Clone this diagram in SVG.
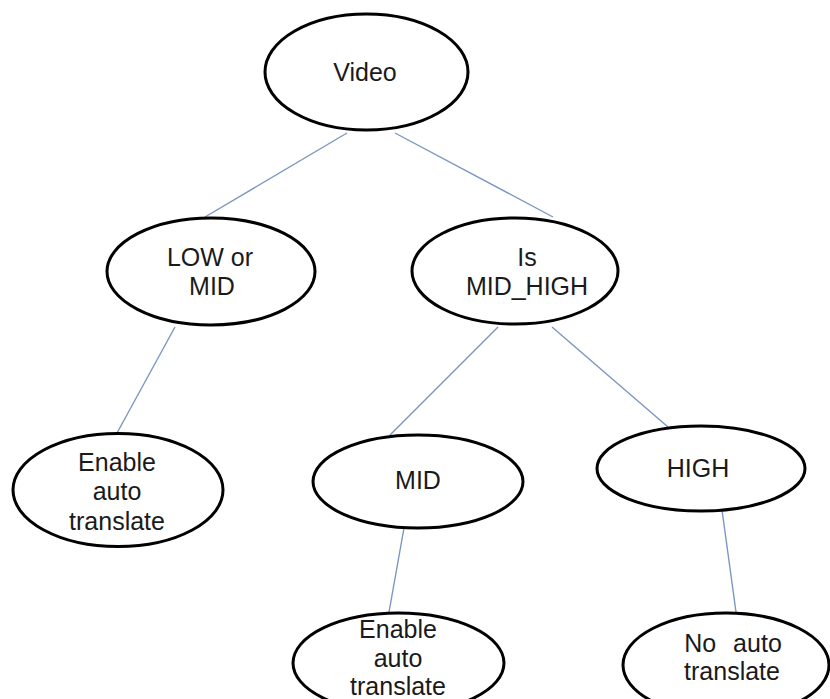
<svg xmlns="http://www.w3.org/2000/svg" width="830" height="699" viewBox="0 0 830 699">
<style>
.node ellipse{fill:#ffffff;stroke:#000000;stroke-width:3}
.node text{font-family:"Liberation Sans",Arial,sans-serif;font-size:25px;fill:#1a1a1a;text-anchor:middle}
#connectors line{stroke:#7b96c2;stroke-width:1.4}
</style>
<rect width="830" height="699" fill="#ffffff"/>
<g id="connectors">
<line x1="347" y1="133" x2="205" y2="217"/>
<line x1="395" y1="133" x2="553" y2="217"/>
<line x1="175" y1="327" x2="117" y2="433"/>
<line x1="498" y1="327" x2="390" y2="435"/>
<line x1="552" y1="327" x2="668" y2="427"/>
<line x1="404" y1="528" x2="389" y2="612"/>
<line x1="722" y1="510" x2="736" y2="612"/>
</g>
<g id="video" class="node">
<ellipse cx="366.5" cy="72" rx="101.5" ry="58"/>
<text x="365" y="81">Video</text>
</g>
<g id="low-or-mid" class="node">
<ellipse cx="211" cy="271.5" rx="104" ry="53.5"/>
<text x="210" y="266">LOW or</text>
<text x="212" y="295">MID</text>
</g>
<g id="is-mid-high" class="node">
<ellipse cx="515" cy="271" rx="103" ry="53"/>
<text x="527" y="266">Is</text>
<text x="527" y="295">MID_HIGH</text>
</g>
<g id="enable-left" class="node">
<ellipse cx="118" cy="490" rx="105" ry="56.5"/>
<text x="117" y="471">Enable</text>
<text x="117" y="500">auto</text>
<text x="117" y="530">translate</text>
</g>
<g id="mid" class="node">
<ellipse cx="418" cy="481.5" rx="105" ry="46.5"/>
<text x="418" y="489">MID</text>
</g>
<g id="high" class="node">
<ellipse cx="701" cy="468.5" rx="104" ry="42.5"/>
<text x="698" y="477">HIGH</text>
</g>
<g id="enable-bottom" class="node">
<ellipse cx="398.5" cy="663" rx="105.5" ry="50"/>
<text x="398" y="638">Enable</text>
<text x="398" y="667">auto</text>
<text x="398" y="695">translate</text>
</g>
<g id="no-auto" class="node">
<ellipse cx="726" cy="665" rx="103" ry="52"/>
<text x="733" y="652" word-spacing="10">No auto</text>
<text x="732" y="680">translate</text>
</g>
</svg>
